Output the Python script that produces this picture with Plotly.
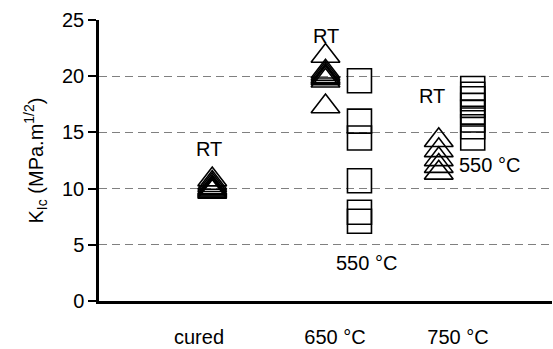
import plotly.graph_objects as go

# Fracture toughness K_Ic per condition (MPa.m^1/2)
cured_rt = [10.8, 10.5, 10.3, 10.1, 10.0, 9.9, 9.8, 9.7]
t650_rt = [21.8, 20.4, 20.2, 20.0, 19.9, 19.8, 19.6, 17.3]
t650_550 = [19.6, 16.0, 14.5, 10.7, 7.9, 7.1]
t750_rt = [14.3, 13.4, 12.6, 12.0, 11.4]
t750_550 = [18.9, 18.4, 18.0, 17.4, 16.8, 16.1, 15.5, 14.5]

# x positions of the groups (RT tests at the group centre, 550 °C tests offset right)
x_cured, x_650, x_750 = 1.0, 2.0, 3.0
offset_550 = 0.3

category_labels = ["cured", "650 °C", "750 °C"]
category_pos = [0.883, 2.084, 3.17]

FONT = "Liberation Sans, Arial, sans-serif"

fig = go.Figure()

tri = dict(symbol="triangle-up-open", size=25, color="black",
           line=dict(color="black", width=1.6))
sq = dict(symbol="square-open", size=24, color="black",
          line=dict(color="black", width=1.6))

fig.add_trace(go.Scatter(x=[x_cured] * len(cured_rt), y=cured_rt,
                         mode="markers", marker=tri, showlegend=False))
fig.add_trace(go.Scatter(x=[x_650] * len(t650_rt), y=t650_rt,
                         mode="markers", marker=tri, showlegend=False))
fig.add_trace(go.Scatter(x=[x_650 + offset_550] * len(t650_550), y=t650_550,
                         mode="markers", marker=sq, showlegend=False))
fig.add_trace(go.Scatter(x=[x_750] * len(t750_rt), y=t750_rt,
                         mode="markers", marker=tri, showlegend=False))
fig.add_trace(go.Scatter(x=[x_750 + offset_550] * len(t750_550), y=t750_550,
                         mode="markers", marker=sq, showlegend=False))

# Test-temperature labels next to each group
notes = [
    (0.97, 13.5, "RT"),
    (2.0, 23.6, "RT"),
    (2.94, 18.2, "RT"),
    (2.36, 3.4, "550 °C"),
    (3.45, 12.1, "550 °C"),
]
for nx, ny, txt in notes:
    fig.add_annotation(x=nx, y=ny, text=txt, showarrow=False,
                       font=dict(family=FONT, size=20, color="black"))

fig.update_layout(
    width=553, height=349,
    margin=dict(l=99, r=1, t=20, b=44),
    paper_bgcolor="white", plot_bgcolor="white",
    font=dict(family=FONT, size=20, color="black"),
)

fig.update_xaxes(
    range=[0, 4], showgrid=False, zeroline=False,
    showline=True, linecolor="black", linewidth=2.5,
    ticks="", tickvals=category_pos, ticktext=category_labels,
    ticklabelstandoff=16,
    tickfont=dict(family=FONT, size=20, color="black"),
)

fig.update_yaxes(
    range=[0, 25], dtick=5, tick0=0,
    showgrid=True, gridcolor="#808080", gridwidth=1, griddash="8px,5px",
    zeroline=False,
    showline=True, linecolor="black", linewidth=2.5,
    ticks="outside", ticklen=8, tickwidth=2, tickcolor="black",
    tickfont=dict(family=FONT, size=20, color="black"),
    title=dict(text="K<sub>Ic</sub> (MPa.m<sup>1/2</sup>)",
               font=dict(family=FONT, size=20, color="black"), standoff=14),
)

fig.write_html("out.html")
